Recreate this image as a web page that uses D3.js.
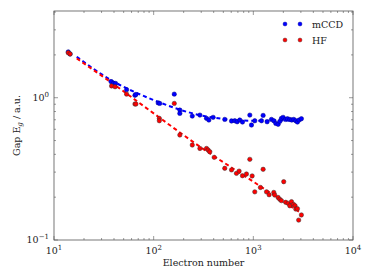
<!DOCTYPE html>
<html>
<head>
  <meta charset="utf-8">
  <script src="https://d3js.org/d3.v7.min.js"></script>
  <style type="text/css">
  body { margin: 0; background: #fff; }
  svg { display: block; font-family: "DejaVu Serif", serif; }
  .axis path, .axis line { stroke: #555; }
  </style>
</head>
<body>
<script type="text/javascript">
  // mCCD points (electron number, gap)
  var mccdN = [13.9, 14.5, 37.3, 39.3, 41.5, 53.5, 64.9, 66.4, 111, 115, 161, 183, 183, 244, 291, 339, 358, 395,
               517, 604, 652, 688, 731, 778, 922, 958, 1034, 1207, 1254, 1375, 1520, 1604, 1680, 1773, 1843, 1914,
               1989, 2100, 2200, 2321, 2430, 2545, 2665, 2770, 2876, 3035];
  var mccdG = [2.10, 2.03, 1.30, 1.26, 1.26, 1.14, 1.04, 1.055, 0.92, 0.912, 1.06, 0.819, 0.776, 0.743, 0.755, 0.716, 0.697, 0.728,
               0.704, 0.686, 0.689, 0.678, 0.697, 0.675, 0.755, 0.643, 0.689, 0.689, 0.751, 0.678, 0.704, 0.689, 0.660, 0.650, 0.682, 0.716,
               0.728, 0.704, 0.712, 0.704, 0.697, 0.704, 0.689, 0.675, 0.697, 0.712];

  // HF points
  var hfN = [13.9, 14.5, 37.8, 41.0, 53.5, 64.9, 66.4, 114, 114, 161, 183, 244, 291, 339, 352, 366, 405,
             517, 604, 677, 720, 778, 853, 922, 973, 1034, 1178, 1254, 1355, 1440, 1604, 1641, 1773, 1843, 1914,
             2018, 2113, 2235, 2321, 2414, 2530, 2623, 2665, 2770, 2850, 3035];
  var hfG = [2.07, 2.03, 1.21, 1.195, 1.06, 0.903, 0.903, 0.716, 0.689, 0.912, 0.547, 0.465, 0.440, 0.440, 0.429, 0.417, 0.381,
             0.319, 0.311, 0.294, 0.305, 0.283, 0.291, 0.369, 0.282, 0.218, 0.234, 0.314, 0.218, 0.208, 0.216, 0.207, 0.199, 0.193, 0.189,
             0.257, 0.184, 0.181, 0.174, 0.186, 0.178, 0.174, 0.165, 0.166, 0.138, 0.150];

  // dashed fit curves
  var mccdFitN = [16.9, 36.4, 100, 291, 1000, 3035];
  var mccdFitG = [1.94, 1.345, 0.963, 0.755, 0.689, 0.695];
  var hfFitN = [16.9, 36.4, 100, 291, 1000, 3035];
  var hfFitG = [1.89, 1.30, 0.776, 0.453, 0.257, 0.154];

  var xTicks = [10, 100, 1000, 10000];
  var yTicks = [0.1, 1];

  var W = 374, H = 280;
  var margin = {top: 11, right: 21, bottom: 40, left: 54};
  var width = W - margin.left - margin.right,
      height = H - margin.top - margin.bottom;

  var svg = d3.select("body").append("svg")
    .attr("width", W).attr("height", H);
  var g = svg.append("g")
    .attr("transform", "translate(" + margin.left + "," + margin.top + ")");

  var x = d3.scaleLog().domain([10, 10000]).range([0, width]);
  var y = d3.scaleLog().domain([0.1, 4.07]).range([height, 0]);

  // minor ticks
  var xMinor = [], yMinor = [];
  [10, 100, 1000].forEach(function(d){ for (var k = 2; k < 10; k++) xMinor.push(d * k); });
  [0.1, 1].forEach(function(d){ for (var k = 2; k < 10; k++) if (d * k <= 4.07) yMinor.push(d * k); });

  function tickLines(sel, vals, scale, horiz, len) {
    vals.forEach(function(v){
      var p = scale(v);
      if (horiz) {
        sel.append("line").attr("x1", p).attr("x2", p).attr("y1", height).attr("y2", height - len);
        sel.append("line").attr("x1", p).attr("x2", p).attr("y1", 0).attr("y2", len);
      } else {
        sel.append("line").attr("y1", p).attr("y2", p).attr("x1", 0).attr("x2", len);
        sel.append("line").attr("y1", p).attr("y2", p).attr("x1", width).attr("x2", width - len);
      }
    });
  }

  var ticks = g.append("g").attr("class", "axis").attr("stroke", "#555").attr("stroke-width", 0.6);
  tickLines(ticks, xTicks, x, true, 4);
  tickLines(ticks, xMinor, x, true, 2);
  tickLines(ticks, yTicks, y, false, 4);
  tickLines(ticks, yMinor, y, false, 2);

  g.append("rect")
    .attr("width", width).attr("height", height)
    .attr("fill", "none").attr("stroke", "#555").attr("stroke-width", 0.8);

  function expOf(v) { return Math.round(Math.log10(v)); }
  function powLabel(t, v) {
    t.append("tspan").text("10");
    var e = expOf(v);
    t.append("tspan").attr("dy", -4).attr("font-size", 7).text(e < 0 ? "\u2212" + (-e) : e);
  }

  xTicks.forEach(function(v){
    var t = g.append("text").attr("x", x(v)).attr("y", height + 14)
      .attr("text-anchor", "middle").attr("font-size", 9.5).attr("fill", "#222");
    powLabel(t, v);
  });
  yTicks.forEach(function(v){
    var t = g.append("text").attr("x", -5).attr("y", y(v) + 3)
      .attr("text-anchor", "end").attr("font-size", 9.5).attr("fill", "#222");
    powLabel(t, v);
  });

  g.append("text").attr("x", width / 2).attr("y", height + 26)
    .attr("text-anchor", "middle").attr("font-size", 9.5).attr("fill", "#222")
    .text("Electron number");

  var yl = g.append("text")
    .attr("transform", "translate(" + (-34) + "," + (height / 2) + ") rotate(-90)")
    .attr("text-anchor", "middle").attr("font-size", 9.5).attr("fill", "#222");
  yl.append("tspan").text("Gap E");
  yl.append("tspan").attr("dy", 2).attr("font-size", 7).attr("font-style", "italic").text("g");
  yl.append("tspan").attr("dy", -2).text("  / a.u.");

  var line = d3.line().x(function(d){ return x(d[0]); }).y(function(d){ return y(d[1]); })
    .curve(d3.curveMonotoneX);

  g.append("path").datum(d3.zip(mccdFitN, mccdFitG))
    .attr("d", line).attr("fill", "none").attr("stroke", "#0000ff")
    .attr("stroke-width", 2).attr("stroke-dasharray", "4,3");
  g.append("path").datum(d3.zip(hfFitN, hfFitG))
    .attr("d", line).attr("fill", "none").attr("stroke", "#ff0000")
    .attr("stroke-width", 2).attr("stroke-dasharray", "4,3");

  g.selectAll(".mccd").data(d3.zip(mccdN, mccdG)).enter().append("circle")
    .attr("cx", function(d){ return x(d[0]); }).attr("cy", function(d){ return y(d[1]); })
    .attr("r", 2.2).attr("fill", "#0000ff").attr("stroke", "#00008a").attr("stroke-width", 0.5);
  g.selectAll(".hf").data(d3.zip(hfN, hfG)).enter().append("circle")
    .attr("cx", function(d){ return x(d[0]); }).attr("cy", function(d){ return y(d[1]); })
    .attr("r", 2.2).attr("fill", "#ff0000").attr("stroke", "#333").attr("stroke-width", 0.5);

  // legend
  var legend = [["mCCD", "#0000ff", "#00008a"], ["HF", "#ff0000", "#333"]];
  legend.forEach(function(d, i){
    var ly = 13 + i * 16;
    [231, 246].forEach(function(lx){
      g.append("circle").attr("cx", lx).attr("cy", ly).attr("r", 2)
        .attr("fill", d[1]).attr("stroke", d[2]).attr("stroke-width", 0.4);
    });
    g.append("text").attr("x", 258).attr("y", ly + 3.5).attr("font-size", 9.5).attr("fill", "#222").text(d[0]);
  });
</script>
</body>
</html>
